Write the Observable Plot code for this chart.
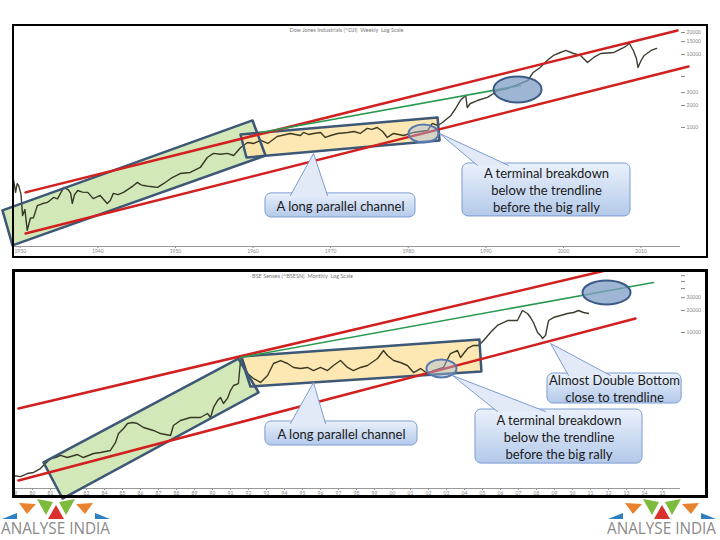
<!DOCTYPE html>
<html><head><meta charset="utf-8">
<script src="https://cdn.jsdelivr.net/npm/d3@7"></script>
<script src="https://cdn.jsdelivr.net/npm/@observablehq/plot@0.6"></script>
<style>
body{margin:0;background:#fff;}
#page{position:relative;width:720px;height:540px;overflow:hidden;background:#fff;font-family:Lato,sans-serif;}
#top,#bot{position:absolute;left:0;}
#top{top:0}
#bot{top:262px}
.frame{position:absolute;border:2px solid #000;box-sizing:border-box;pointer-events:none;}
.logo{position:absolute;width:120px;height:45px;overflow:visible;}
</style></head><body><div id="page">
<div id="top"></div><div id="bot"></div>
<div class="frame" style="left:12px;top:24px;width:696px;height:234px;"></div>
<div class="frame" style="left:12px;top:269px;width:696px;height:229px;border-width:3px"></div>
<svg class="logo" style="left:0;top:494px" viewBox="0 0 120 45">
 <polygon points="2,25 17,19 17,25" fill="#2f7fc0"/>
 <polygon points="19,9 36,10 27,20" fill="#e8822e"/>
 <polygon points="37,5 53,8 46,21" fill="#7dbb3c"/>
 <polygon points="48,25 56,11 64,25" fill="#d9312b"/>
 <polygon points="59,8 75,5 66,21" fill="#7dbb3c"/>
 <polygon points="76,10 93,9 85,20" fill="#e8822e"/>
 <polygon points="95,19 110,25 95,25" fill="#2f7fc0"/>
 <text x="1" y="40" textLength="109" lengthAdjust="spacingAndGlyphs" font-family="Open Sans" font-size="16" fill="#8a8a8a">ANALYSE INDIA</text>
</svg>
<svg class="logo" style="left:606px;top:494px" viewBox="0 0 120 45">
 <polygon points="2,25 17,19 17,25" fill="#2f7fc0"/>
 <polygon points="19,9 36,10 27,20" fill="#e8822e"/>
 <polygon points="37,5 53,8 46,21" fill="#7dbb3c"/>
 <polygon points="48,25 56,11 64,25" fill="#d9312b"/>
 <polygon points="59,8 75,5 66,21" fill="#7dbb3c"/>
 <polygon points="76,10 93,9 85,20" fill="#e8822e"/>
 <polygon points="95,19 110,25 95,25" fill="#2f7fc0"/>
 <text x="1" y="40" textLength="109" lengthAdjust="spacingAndGlyphs" font-family="Open Sans" font-size="16" fill="#8a8a8a">ANALYSE INDIA</text>
</svg>
</div>
<script>
// ---------- TOP PANEL DATA (Dow Jones, log scale) ----------
const topTitle = "Dow Jones Industrials (^DJI)  Weekly  Log Scale";
const topYears = [1929.1,1929.4,1929.6,1929.8,1930.1,1930.3,1930.6,1930.9,1931.3,1931.7,
 1932.2,1932.8,1933.5,1934.3,1934.8,1935.6,1936.2,1936.5,1936.7,1937.0,
 1937.4,1938.0,1938.7,1939.4,1940.3,1941.2,1941.6,1942.0,1942.6,1943.3,
 1944.6,1945.1,1945.5,1945.9,1946.8,1947.7,1948.5,1949.4,1950.6,1951.9,
 1953.2,1954.1,1954.9,1955.8,1956.7,1957.5,1958.4,1959.3,1960.1,1961.0,
 1961.9,1963.1,1964.8,1966.1,1966.5,1967.2,1967.8,1968.7,1969.3,1970.0,
 1970.9,1972.2,1973.0,1973.8,1974.7,1975.3,1976.0,1976.7,1977.3,1978.1,
 1979.4,1980.7,1981.5,1982.5,1983.1,1983.8,1984.4,1985.5,1986.1,1986.7,
 1987.4,1987.6,1988.0,1988.9,1990.2,1991.0,1991.5,1992.8,1994.5,1995.4,
 1996.1,1997.0,1997.9,1998.7,1999.6,2000.3,2001.3,2002.2,2003.1,2003.9,
 2004.8,2006.5,2007.8,2008.5,2009.0,2009.4,2009.6,2010.0,2010.4,2011.3,2012.0];
const topPrices = [200,129,170,160,120,62,75,39,57,58,
 85,90,94,110,105,151,140,125,91,120,
 137,130,129,106,117,91,100,125,120,129,
 160,177,165,160,155,151,171,200,234,242,
 283,388,441,430,441,413,532,623,604,664,
 604,753,828,777,855,800,828,855,730,777,
 828,855,880,828,970,940,1000,880,730,828,
 777,855,880,910,1135,1065,1170,1460,1820,2340,
 2740,1880,2130,2340,2580,2920,3210,3420,4010,4400,
 5670,6640,8270,9690,10650,11350,10320,9690,7770,9100,
 10320,10650,12470,14150,11350,8810,6640,8270,9690,11350,12090];
const topXTicks = [1930,1940,1950,1960,1970,1980,1990,2000,2010];
const topYTicks = [20000,15000,10000,5000,3000,2000,1000];
const topGreenBoxYears = [1927.71,1959.93,1961.60,1929.0];
const topGreenBoxPrices = [73,1248,413,24.2];
const topOrangeBoxYears = [1958.38,1983.77,1984.03,1959.15];
const topOrangeBoxPrices = [802,1371,664,388];
const topRedUpperYears = [1930.68,2014.70], topRedUpperPrices = [129,21330];
const topRedLowerYears = [1930.68,2016.11], topRedLowerPrices = [35.3,6850];
const topGreenLineYears = [1960.96,1994.46], topGreenLinePrices = [855,3760];
const topTargetYear = [1994.08], topTargetPrice = [3320];
const topBreakYear = [1981.96], topBreakPrice = [828];
const topLabels = ["A long parallel channel","A terminal breakdown\nbelow the trendline\nbefore the big rally"];
const topBoxX1 = [1961.60,1986.99], topBoxX2 = [1980.93,2008.64];
const topBoxTop = [125,321], topBoxBottom = [58.5,60.4];
const topApexYears = [1967.79,1984.03], topApexPrices = [441,828];
const topBaseLeft = [1964.82,1988.92], topBaseRight = [1969.59,1992.92], topBasePrices = [117,302];

// ---------- BOTTOM PANEL DATA (Sensex, log scale) ----------
const botTitle = "BSE Sensex (^BSESN)  Monthly  Log Scale";
const botYears = [1978.94,1979.33,1979.72,1980.06,1980.44,1980.72,1981.0,1981.28,1981.56,1981.94,
 1982.5,1982.83,1983.39,1983.78,1984.33,1984.61,1984.78,1985.06,1985.28,1985.56,
 1985.83,1986.17,1986.72,1987.11,1987.67,1987.83,1988.22,1988.78,1989.33,1989.72,
 1989.89,1990.06,1990.28,1990.44,1990.61,1990.83,1991.0,1991.17,1991.44,1991.56,
 1991.67,1991.94,1992.28,1992.67,1993.06,1993.39,1993.78,1994.17,1994.5,1994.89,
 1995.28,1995.61,1996.0,1996.39,1996.72,1997.11,1997.5,1997.83,1998.22,1998.61,
 1999.17,1999.5,1999.72,2000.06,2000.44,2000.83,2001.17,2001.56,2001.94,2002.28,
 2002.83,2003.22,2003.61,2003.78,2004.17,2004.5,2004.78,2005.06,2005.44,2005.83,
 2006.39,2006.94,2007.22,2007.5,2007.67,2007.83,2008.06,2008.22,2008.33,2008.5,
 2008.67,2008.94,2009.33,2009.72,2010.06,2010.33,2010.61,2010.89];
const botPrices = [110,106,117,121,137,160,188,194,207,194,
 213,194,220,227,242,311,413,484,566,585,
 566,500,455,413,388,532,624,685,685,777,
 685,940,1170,1290,1065,1250,1600,1880,2000,4130,
 4400,2740,2340,2070,2580,3760,4130,3760,3320,3210,
 3320,3010,3320,3010,3530,4130,3320,3010,3320,3530,
 4400,5670,4840,4130,3880,3530,2830,3210,2740,3010,
 3320,5150,5670,4550,6040,6640,6640,7770,10000,12470,
 14590,14590,20000,18200,16030,13700,10000,9100,8280,9100,
 14590,16030,17100,18200,18790,20000,18790,18200];
const botXTicks = d3.range(1979, 2016);
const botYTicks = [60000,50000,40000,30000,20000,10000];
const botGreenBoxYears = [1980.61,1991.44,1992.56,1981.67];
const botGreenBoxPrices = [166,4400,1507,53.2];
const botOrangeBoxYears = [1991.56,2004.83,2004.94,1992.11];
const botOrangeBoxPrices = [4690,8020,2925,1820];
const botRedUpperYears = [1979.22,2011.83], botRedUpperPrices = [910,70630];
const botRedLowerYears = [1979.22,2013.5], botRedLowerPrices = [94,15560];
const botGreenLineYears = [1991.56,2014.5], botGreenLinePrices = [4550,48400];
const botTargetYear = [2011.89], botTargetPrice = [35320];
const botBreakYear = [2002.72], botBreakPrice = [3214];
const botLabels = ["A long parallel channel","Almost Double Bottom\nclose to trendline","A terminal breakdown\nbelow the trendline\nbefore the big rally"];
const botBoxX1 = [1992.94,2008.61,2004.61], botBoxX2 = [2001.39,2016.06,2013.89];
const botBoxTop = [604,2742,881], botBoxBottom = [283,1065,160];
const botApexYears = [1995.61,2008.78,2003.33], botApexPrices = [2065,7070,2576];
const botBaseLeft = [1994.33,2009.78,2005.83], botBaseRight = [1996.28,2012.11,2008.5], botBasePrices = [567,2576,828];

// ---------- helpers ----------
const pts = (xs, ys) => xs.map((x, i) => ({x, y: ys[i]}));
const closed = (xs, ys) => { const p = pts(xs, ys); return [...p, p[0]]; };
const ellipseSym = (rx, ry) => ({draw(ctx) {
  const k = 0.5523;
  ctx.moveTo(rx, 0);
  ctx.bezierCurveTo(rx, ry*k, rx*k, ry, 0, ry);
  ctx.bezierCurveTo(-rx*k, ry, -rx, ry*k, -rx, 0);
  ctx.bezierCurveTo(-rx, -ry*k, -rx*k, -ry, 0, -ry);
  ctx.bezierCurveTo(rx*k, -ry, rx, -ry*k, rx, 0);
  ctx.closePath();
}});
function calloutMarks(labels, x1, x2, top, bot, ax, ay, bl, br, by, grad) {
  const boxes = labels.map((t, i) => ({t, x1: x1[i], x2: x2[i], y1: top[i], y2: bot[i],
    cx: (x1[i] + x2[i]) / 2, cy: Math.sqrt(top[i] * bot[i])}));
  const wedges = labels.flatMap((t, i) => [{k: i, x: bl[i], y: by[i]}, {k: i, x: ax[i], y: ay[i]}, {k: i, x: br[i], y: by[i]}]);
  return [
    Plot.rect(boxes, {x1: "x1", x2: "x2", y1: "y1", y2: "y2", rx: 6, fill: `url(#${grad})`, stroke: "#7d9cd0", strokeWidth: 1}),
    Plot.line(wedges, {x: "x", y: "y", z: "k", fill: "#e2eaf8", stroke: "#7d9cd0", strokeWidth: 1}),
    Plot.text(boxes, {x: "cx", y: "cy", text: "t", fontSize: 13, fill: "#1a1a1a", fontFamily: "Lato", lineHeight: 1.3})
  ];
}
function addGrad(svg, id) {
  const ns = "http://www.w3.org/2000/svg";
  const defs = document.createElementNS(ns, "defs");
  const lg = document.createElementNS(ns, "linearGradient");
  lg.setAttribute("id", id); lg.setAttribute("x1", "0"); lg.setAttribute("y1", "0"); lg.setAttribute("x2", "0"); lg.setAttribute("y2", "1");
  [["0", "#eaf1fb"], ["1", "#b3c9ea"]].forEach(([o, c]) => {
    const s = document.createElementNS(ns, "stop"); s.setAttribute("offset", o); s.setAttribute("stop-color", c); lg.appendChild(s);
  });
  defs.appendChild(lg); svg.insertBefore(defs, svg.firstChild);
}
const style = {background: "transparent", overflow: "visible", fontFamily: "Lato", fontSize: "5px", color: "#888"};
const boxStroke = "#3d5877";

function panelMarks(d) {
  return [
    Plot.ruleY([d.yMin], {stroke: "#999", strokeWidth: 1}),
    Plot.text([d.title], {text: t => t, frameAnchor: "top", dx: d.titleDx, dy: 4, fontSize: 5.5, fill: "#777"}),
    Plot.line(closed(d.gX, d.gY), {x: "x", y: "y", fill: "#d3e8b8", stroke: "none"}),
    Plot.line(closed(d.oX, d.oY), {x: "x", y: "y", fill: "#fde4a6", fillOpacity: 0.85, stroke: "none"}),
    Plot.line(pts(d.years, d.prices), {x: "x", y: "y", stroke: "#1a1a0a", strokeWidth: 1.4, strokeOpacity: 0.85}),
    Plot.line(closed(d.gX, d.gY), {x: "x", y: "y", stroke: boxStroke, strokeWidth: 2.5, strokeLinejoin: "round"}),
    Plot.line(closed(d.oX, d.oY), {x: "x", y: "y", stroke: boxStroke, strokeWidth: 2.5, strokeLinejoin: "round"}),
    Plot.line(pts(d.ruX, d.ruY), {x: "x", y: "y", stroke: "#d21f1f", strokeWidth: 2.5}),
    Plot.line(pts(d.rlX, d.rlY), {x: "x", y: "y", stroke: "#d21f1f", strokeWidth: 2.5}),
    Plot.line(pts(d.glX, d.glY), {x: "x", y: "y", stroke: "#2b9a4f", strokeWidth: 1.6}),
    Plot.dot(pts(d.tX, d.tY), {x: "x", y: "y", symbol: ellipseSym(24, d.tRy), fill: "#7f9cc5", fillOpacity: 0.75, stroke: "#3c5a86", strokeWidth: 2}),
    Plot.dot(pts(d.bX, d.bY), {x: "x", y: "y", symbol: ellipseSym(15, 9), fill: "#a6bddc", fillOpacity: 0.45, stroke: "#5679ad", strokeWidth: 2}),
    ...calloutMarks(...d.callout)
  ];
}

const topPlot = Plot.plot({
  width: 720, height: 262, marginLeft: 12, marginRight: 40, marginTop: 24, marginBottom: 16,
  style,
  x: {domain: [1929, 2015.08], ticks: topXTicks, tickFormat: d => String(d), tickSize: 2, tickPadding: 1, label: null},
  y: {type: "log", domain: [23.4, 25750], axis: "right", ticks: topYTicks, tickFormat: d => String(d), tickSize: 4, tickPadding: 2, label: null},
  marks: panelMarks({
    yMin: 23.4, title: topTitle, titleDx: 0, years: topYears, prices: topPrices,
    gX: topGreenBoxYears, gY: topGreenBoxPrices, oX: topOrangeBoxYears, oY: topOrangeBoxPrices,
    ruX: topRedUpperYears, ruY: topRedUpperPrices, rlX: topRedLowerYears, rlY: topRedLowerPrices,
    glX: topGreenLineYears, glY: topGreenLinePrices,
    tX: topTargetYear, tY: topTargetPrice, tRy: 13, bX: topBreakYear, bY: topBreakPrice,
    callout: [topLabels, topBoxX1, topBoxX2, topBoxTop, topBoxBottom, topApexYears, topApexPrices, topBaseLeft, topBaseRight, topBasePrices, "gradTop"]
  })
});
addGrad(topPlot, "gradTop");
document.getElementById("top").appendChild(topPlot);

const botPlot = Plot.plot({
  width: 720, height: 278, marginLeft: 12, marginRight: 40, marginTop: 8, marginBottom: 52,
  style,
  x: {domain: [1978.89, 2016.0], ticks: botXTicks, tickFormat: d => String(d).slice(2), tickSize: 2, tickPadding: 1, label: null},
  y: {type: "log", domain: [73, 70650], axis: "right", ticks: botYTicks, tickFormat: d => String(d), tickSize: 4, tickPadding: 2, label: null},
  marks: panelMarks({
    yMin: 73, title: botTitle, titleDx: -44, years: botYears, prices: botPrices,
    gX: botGreenBoxYears, gY: botGreenBoxPrices, oX: botOrangeBoxYears, oY: botOrangeBoxPrices,
    ruX: botRedUpperYears, ruY: botRedUpperPrices, rlX: botRedLowerYears, rlY: botRedLowerPrices,
    glX: botGreenLineYears, glY: botGreenLinePrices,
    tX: botTargetYear, tY: botTargetPrice, tRy: 12, bX: botBreakYear, bY: botBreakPrice,
    callout: [botLabels, botBoxX1, botBoxX2, botBoxTop, botBoxBottom, botApexYears, botApexPrices, botBaseLeft, botBaseRight, botBasePrices, "gradBot"]
  })
});
addGrad(botPlot, "gradBot");
document.getElementById("bot").appendChild(botPlot);
</script>
</body></html>
